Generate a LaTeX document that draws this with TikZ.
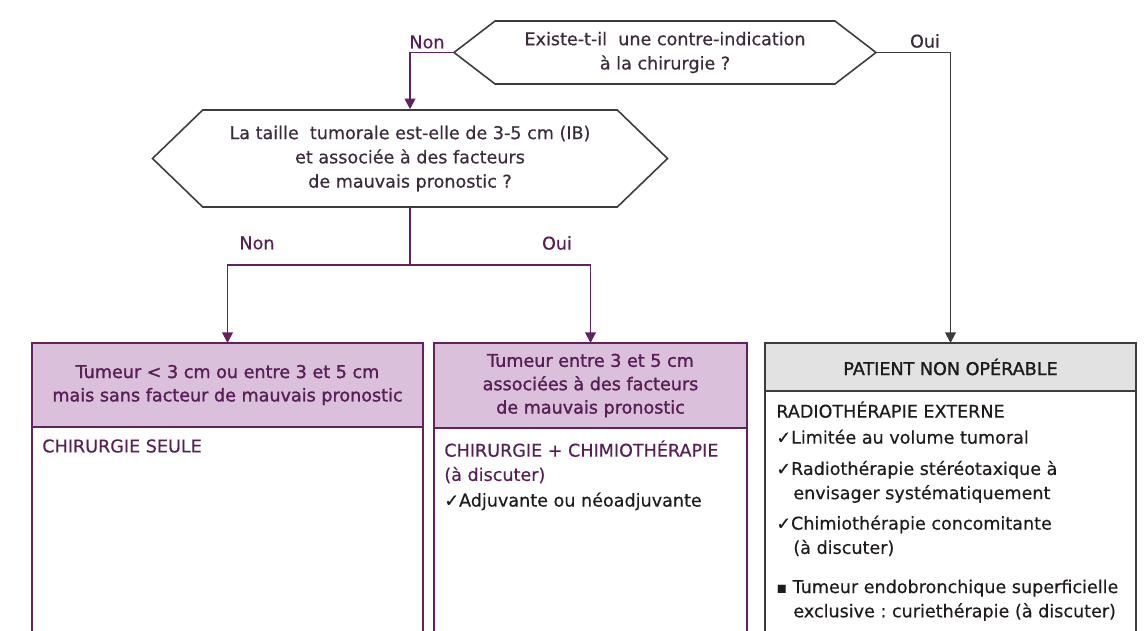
\documentclass[tikz,border=0pt]{standalone}
\usepackage{fontspec}
\setmainfont{DejaVu Sans}[FakeBold=0.4]
\newfontfamily\demigras{DejaVu Sans}[FakeBold=1.4]
\usetikzlibrary{shapes.symbols,arrows.meta,positioning}

\definecolor{traitviolet}{RGB}{98,34,98}
\definecolor{textviolet}{RGB}{88,30,88}
\definecolor{lavande}{RGB}{218,192,218}
\definecolor{gristrait}{RGB}{60,60,60}
\definecolor{grisfond}{RGB}{226,226,226}
\definecolor{textegris}{RGB}{58,42,58}
\definecolor{textenoir}{RGB}{30,26,30}

\newcommand{\chk}{✓}
\newcommand{\ind}{\hspace*{0.34cm}}

\begin{document}
\frenchspacing
\begin{tikzpicture}[
    question/.style={signal, signal to=east and west, draw=gristrait, line width=0.9pt, fill=white, align=center, text=textegris, inner sep=0pt, font=\fontsize{10}{13.8}\selectfont},
    entete/.style={rectangle, draw=traitviolet, fill=lavande, line width=1pt, outer sep=0pt, align=center, text=textviolet, anchor=north west, inner sep=0pt, font=\demigras\fontsize{10}{13.3}\selectfont},
    corps/.style={rectangle, draw=traitviolet, line width=1pt, outer sep=0pt, anchor=north, minimum height=5cm},
    texte/.style={anchor=north west, inner sep=0pt, align=left, text=textenoir, font=\fontsize{10}{13.8}\selectfont},
    reponse/.style={font=\fontsize{10}{12}\selectfont, text=textviolet},
    fleche/.style={-{Triangle[width=6pt,length=6pt]}, line width=1.1pt, draw=traitviolet}
]
\useasboundingbox (0,0) rectangle (22.9,-12.62);
\clip (0,0) rectangle (22.9,-12.62);

% Questions (hexagones)
\node[question, signal pointer angle=75, minimum width=8.44cm, minimum height=1.26cm] (q1) at (13.3,-1.05) {Existe-t-il~ une contre-indication\\ à la chirurgie ?};
\node[question, signal pointer angle=88, minimum width=10.3cm, minimum height=1.94cm] (q2) at (8.2,-3.17) {La taille~ tumorale est-elle de 3-5 cm (IB)\\ et associée à des facteurs\\ de mauvais pronostic ?};

% Entetes des trois colonnes
\node[entete, minimum width=7.82cm, minimum height=1.68cm] (tete1) at (0.64,-6.86) {Tumeur < 3 cm ou entre 3 et 5 cm\\ mais sans facteur de mauvais pronostic};
\node[entete, minimum width=6.26cm, minimum height=1.70cm] (tete2) at (8.68,-6.86) {Tumeur entre 3 et 5 cm\\ associées à des facteurs\\ de mauvais pronostic};
\node[entete, draw=gristrait, fill=grisfond, text=textenoir, minimum width=7.42cm, minimum height=0.96cm] (tete3) at (15.3,-6.86) {PATIENT NON OPÉRABLE};

% Corps des colonnes (ouverts vers le bas)
\node[corps, minimum width=7.82cm] (corps1) at (tete1.south) {};
\node[corps, minimum width=6.26cm] (corps2) at (tete2.south) {};
\node[corps, draw=gristrait, minimum width=7.42cm] (corps3) at (tete3.south) {};

% Textes des colonnes
\node[texte, text=textviolet] (t1) at ([shift={(0.2,-0.24)}]corps1.north west) {CHIRURGIE SEULE};
\node[texte] (t2) at ([shift={(0.2,-0.24)}]corps2.north west) {\textcolor{textviolet}{CHIRURGIE + CHIMIOTHÉRAPIE}\\ \textcolor{textviolet}{(à discuter)}\\[0.8pt] \chk Adjuvante ou néoadjuvante};
\node[texte] (t3) at ([shift={(0.22,-0.2)}]corps3.north west) {RADIOTHÉRAPIE EXTERNE\\[1pt]
    \chk Limitée au volume tumoral\\[4pt]
    \chk Radiothérapie stéréotaxique à\\ \ind envisager systématiquement\\[3.5pt]
    \chk Chimiothérapie concomitante\\ \ind (à discuter)\\[8.5pt]
    {\small ▪} Tumeur endobronchique superficielle\\ \ind exclusive : curiethérapie (à discuter)};

% Fleches
\coordinate (split) at ([yshift=-1.14cm]q2.south);
\draw[fleche] (q1.west) -| (q2.north);
\draw[fleche, draw=gristrait] (q1.east) -| (tete3.north);
\draw[line width=1.1pt, draw=traitviolet] (q2.south) -- (split);
\draw[fleche] (split) -| (tete1.north);
\draw[fleche] (split) -| (tete2.north);

% Reponses
\node[reponse] (non1) at (8.54,-0.84) {Non};
\node[reponse, text=textegris] (oui1) at (18.5,-0.82) {Oui};
\node[reponse] (non2) at (5.14,-4.86) {Non};
\node[reponse] (oui2) at (11.14,-4.86) {Oui};

\end{tikzpicture}
\end{document}
